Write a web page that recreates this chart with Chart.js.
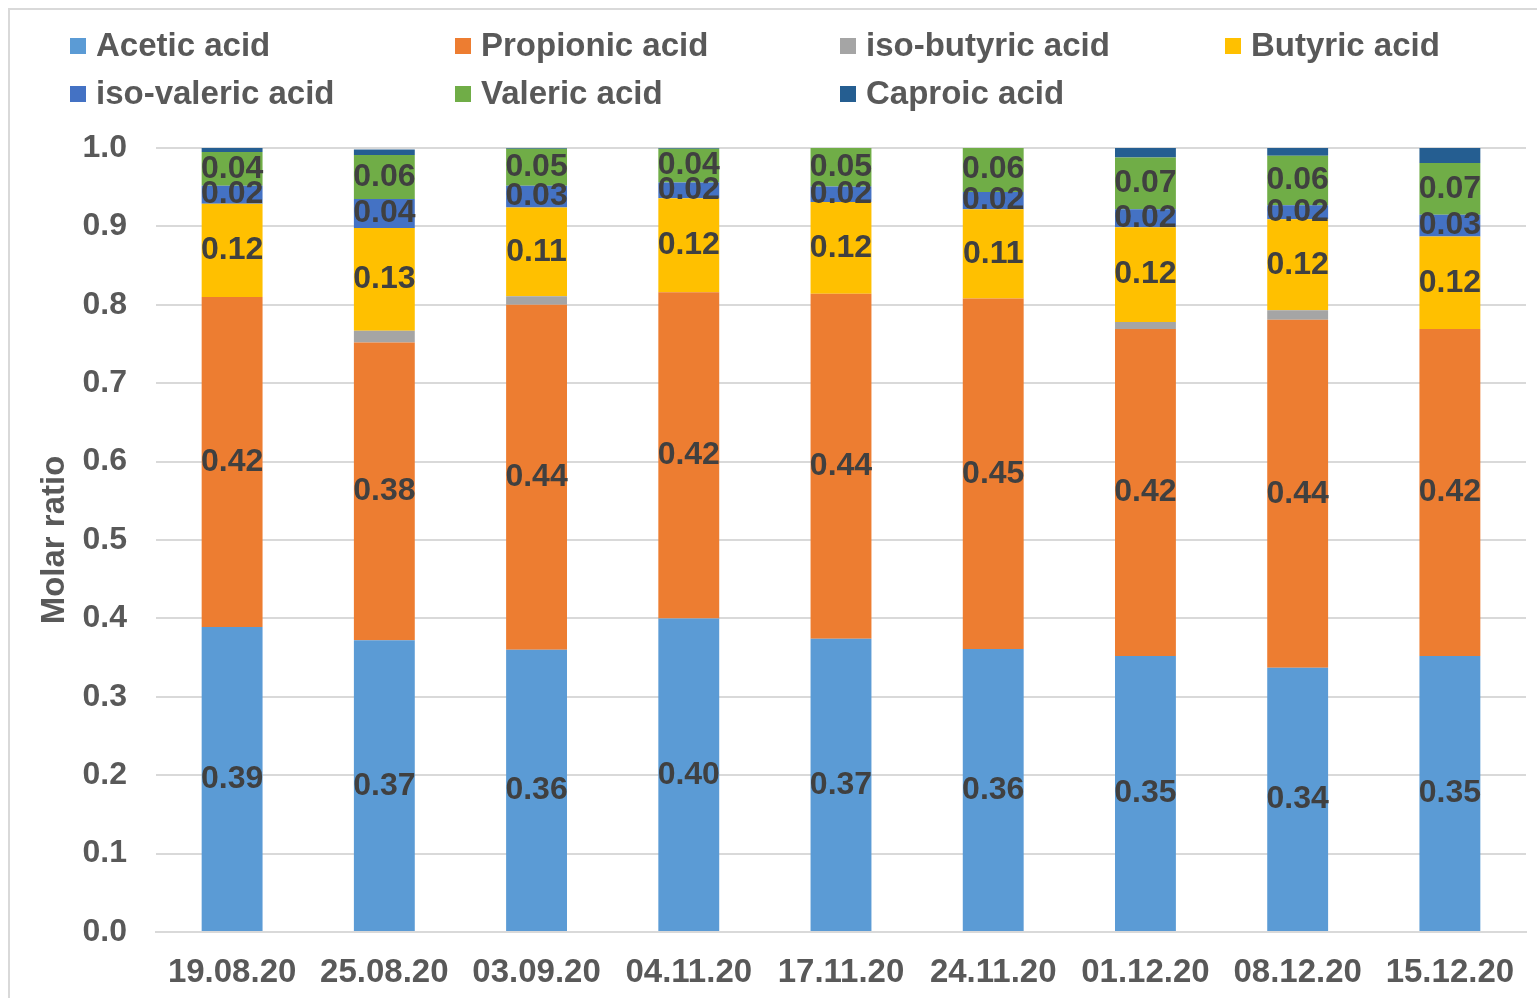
<!DOCTYPE html>
<html>
<head>
<meta charset="utf-8">
<script src="https://cdn.jsdelivr.net/npm/chart.js@4.4.1/dist/chart.umd.min.js"></script>
<style>
  body { margin: 0; background: #fff; overflow: hidden; }
  #wrap { position: relative; width: 1537px; height: 998px; }
  #frame { position: absolute; left: 8px; top: 8px; width: 1540px; height: 1000px; border: 2px solid #d9d9d9; }
  #chart { position: absolute; left: 0; top: 0; }
  .leg { position: absolute; font: bold 33px "Liberation Sans", Arial, sans-serif; color: #595959; white-space: nowrap; line-height: 36px; }
  .leg i { display: inline-block; width: 16px; height: 16px; margin-right: 10px; vertical-align: 2px; }
</style>
</head>
<body>
<div id="wrap">
  <div id="frame"></div>
  <canvas id="chart" width="1537" height="998"></canvas>
  <div id="legend"></div>
</div>
<script>
// categories (sampling dates)
const dates = ["19.08.20", "25.08.20", "03.09.20", "04.11.20", "17.11.20", "24.11.20", "01.12.20", "08.12.20", "15.12.20"];

// molar ratios
const acetic     = [0.389, 0.372, 0.360, 0.400, 0.374, 0.361, 0.352, 0.337, 0.352];
const propionic  = [0.421, 0.380, 0.440, 0.416, 0.440, 0.447, 0.417, 0.444, 0.417];
const isoButyric = [0.000, 0.015, 0.011, 0.000, 0.000, 0.000, 0.009, 0.012, 0.000];
const butyric    = [0.119, 0.131, 0.113, 0.120, 0.117, 0.114, 0.121, 0.116, 0.118];
const isoValeric = [0.023, 0.037, 0.028, 0.020, 0.020, 0.022, 0.023, 0.018, 0.028];
const valeric    = [0.043, 0.056, 0.047, 0.043, 0.049, 0.057, 0.066, 0.063, 0.066];
const caproic    = [0.005, 0.007, 0.003, 0.001, 0.000, 0.000, 0.015, 0.011, 0.019];

const yTicks = [0, 0.1, 0.2, 0.3, 0.4, 0.5, 0.6, 0.7, 0.8, 0.9, 1.0];

const series = [
  { label: "Acetic acid",      data: acetic,     color: "#5B9BD5", showValues: true },
  { label: "Propionic acid",   data: propionic,  color: "#ED7D31", showValues: true },
  { label: "iso-butyric acid", data: isoButyric, color: "#A5A5A5", showValues: false },
  { label: "Butyric acid",     data: butyric,    color: "#FFC000", showValues: true },
  { label: "iso-valeric acid", data: isoValeric, color: "#4472C4", showValues: true },
  { label: "Valeric acid",     data: valeric,    color: "#70AD47", showValues: true },
  { label: "Caproic acid",     data: caproic,    color: "#255E91", showValues: false }
];

const FONT = '"Liberation Sans", Arial, sans-serif';
const TEXT = "#595959";

// LEGEND (html, 4 columns)
const legCols = [70, 455, 840, 1225];
const legRows = [27, 75];
const legend = document.getElementById("legend");
series.forEach((s, i) => {
  const el = document.createElement("div");
  el.className = "leg";
  el.style.left = legCols[i % 4] + "px";
  el.style.top = legRows[Math.floor(i / 4)] + "px";
  el.innerHTML = `<i style="background:${s.color}"></i>${s.label}`;
  legend.appendChild(el);
});

// VALUE LABELS
const barLabels = {
  id: "barLabels",
  afterDatasetsDraw(chart) {
    const ctx = chart.ctx;
    ctx.save();
    ctx.font = "bold 32px " + FONT;
    ctx.fillStyle = "#404040";
    ctx.textAlign = "center";
    ctx.textBaseline = "middle";
    chart.data.datasets.forEach((ds, i) => {
      if (!ds.showValues) return;
      chart.getDatasetMeta(i).data.forEach((bar, j) => {
        const p = bar.getProps(["x", "y", "base"], true);
        ctx.fillText(ds.data[j].toFixed(2), p.x, (p.y + p.base) / 2);
      });
    });
    ctx.restore();
  }
};

new Chart(document.getElementById("chart"), {
  type: "bar",
  data: {
    labels: dates,
    datasets: series.map(s => ({
      label: s.label,
      data: s.data,
      backgroundColor: s.color,
      borderWidth: 0,
      showValues: s.showValues,
      barPercentage: 1,
      categoryPercentage: 0.4
    }))
  },
  options: {
    responsive: false,
    animation: false,
    layout: { padding: { top: 148, right: 11, left: 0, bottom: 0 } },
    plugins: {
      legend: { display: false },
      tooltip: { enabled: false }
    },
    scales: {
      x: {
        stacked: true,
        afterFit: s => { s.height = 66; },
        grid: { display: false, drawTicks: false },
        border: { display: true, color: "#d9d9d9", width: 2 },
        ticks: { color: TEXT, font: { family: FONT, size: 33, weight: "bold" }, padding: 21, maxRotation: 0 }
      },
      y: {
        stacked: true,
        min: 0,
        max: 1,
        afterFit: s => { s.width = 156; },
        afterBuildTicks: s => { s.ticks = yTicks.map(v => ({ value: v })); },
        grid: { color: "#d9d9d9", lineWidth: 2, drawTicks: false },
        border: { display: false },
        ticks: {
          color: TEXT,
          font: { family: FONT, size: 32, weight: "bold" },
          padding: 29,
          callback: v => Number(v).toFixed(1)
        },
        title: {
          display: true,
          text: "Molar ratio",
          color: TEXT,
          font: { family: FONT, size: 33, weight: "bold" },
          padding: { top: 35, bottom: 0 }
        }
      }
    }
  },
  plugins: [barLabels]
});
</script>
</body>
</html>
